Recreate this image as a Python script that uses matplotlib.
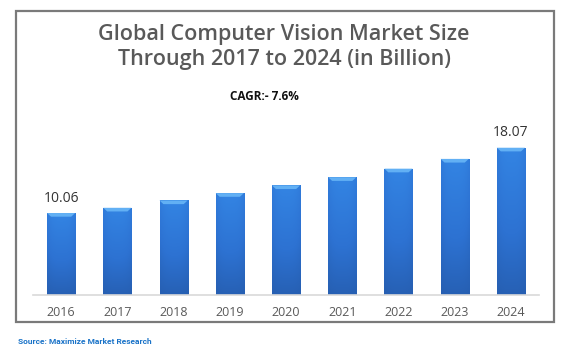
import matplotlib
matplotlib.use("Agg")
import matplotlib.pyplot as plt
import numpy as np
from matplotlib.patches import Rectangle, Polygon
from matplotlib.colors import LinearSegmentedColormap

years = ["2016", "2017", "2018", "2019", "2020", "2021", "2022", "2023", "2024"]
values = [10.06, 10.7, 11.6, 12.5, 13.45, 14.45, 15.5, 16.7, 18.07]
labels_shown = {0: "10.06", 8: "18.07"}

title = "Global Computer Vision Market Size\nThrough 2017 to 2024 (in Billion)"
subtitle = "CAGR:- 7.6%"
source = "Source: Maximize Market Research"

W, H = 570, 362
fig = plt.figure(figsize=(W / 100, H / 100), dpi=100)
fig.patch.set_facecolor("white")

# outer frame
fig.patches.append(Rectangle((16 / W, 1 - 322 / H), (554 - 16) / W, (322 - 11) / H,
                             transform=fig.transFigure, fill=False,
                             edgecolor="#7a7a7a", linewidth=1.6, zorder=0))

ax = fig.add_axes([33 / W, 1 - 295 / H, 506 / W, 163 / H])
x = np.arange(len(years))
bw = 0.5
bars = ax.bar(x, values, width=bw, color="none", edgecolor="none", zorder=2)
ax.set_xlim(-0.5, len(years) - 0.5)
ax.set_ylim(0, 20)

cmap = LinearSegmentedColormap.from_list("b", ["#2459a8", "#2d72d2", "#3384e3"])
for b in bars:
    x0, y0 = b.get_x(), b.get_y()
    w, h = b.get_width(), b.get_height()
    grad = np.linspace(1, 0, 100).reshape(-1, 1)
    horiz = 1 - 0.25 * np.abs(np.linspace(-1, 1, 30)) ** 3
    img = grad * 0.85 + 0.15
    img = img * horiz.reshape(1, -1)
    im = ax.imshow(img, extent=[x0, x0 + w, y0, y0 + h], aspect="auto",
                   cmap=cmap, vmin=0, vmax=1, origin="upper", zorder=2)
    im.set_clip_path(b)
    cap = 0.45
    inset = 0.07
    ax.add_patch(Polygon([[x0, y0 + h], [x0 + w, y0 + h],
                          [x0 + w - inset, y0 + h - cap], [x0 + inset, y0 + h - cap]],
                         closed=True, facecolor="#62b0f4", edgecolor="none", zorder=3))

for i, t in labels_shown.items():
    ax.text(x[i], values[i] + 0.9, t, ha="center", va="bottom",
            fontsize=10, color="#333333", family="Open Sans")

for s in ["top", "right", "left"]:
    ax.spines[s].set_visible(False)
ax.spines["bottom"].set_color("#d9d9d9")
ax.spines["bottom"].set_linewidth(1.2)
ax.set_yticks([])
ax.set_xticks(x)
ax.set_xticklabels(years, fontsize=9, color="#595959", family="Open Sans")
ax.tick_params(axis="x", length=0, pad=8)
ax.set_facecolor("none")

fig.text(284 / W, 1 - 47 / H, title, ha="center", va="center", fontsize=15.5,
         color="#595959", family="Open Sans", fontweight="semibold", linespacing=1.3)
fig.text(264 / W, 1 - 97 / H, subtitle, ha="center", va="center", fontsize=8.5,
         color="#111111", family="Open Sans", fontweight="bold")
fig.text(18 / W, 1 - 342 / H, source, ha="left", va="center", fontsize=6,
         color="#1a73c8", family="Roboto", fontweight="bold")

fig.savefig("out.png", dpi=100, facecolor="white")
